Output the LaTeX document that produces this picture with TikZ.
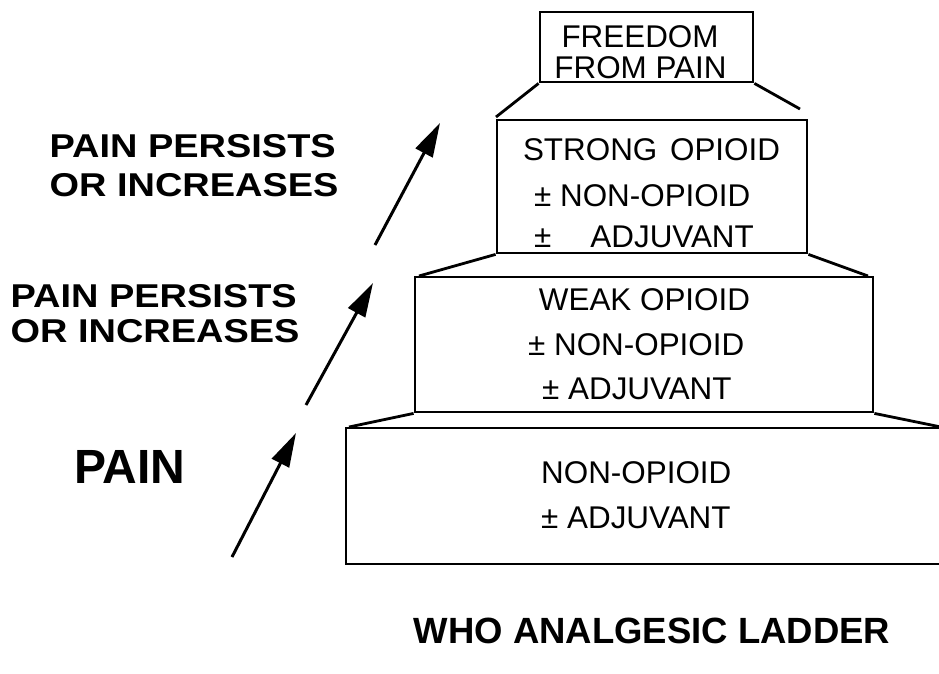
\documentclass[tikz,border=0pt]{standalone}
\usepackage{fontspec}
\setmainfont{Liberation Sans}
\newfontfamily\widesans[FakeStretch=1.15]{Liberation Sans}
\usetikzlibrary{arrows.meta}
\begin{document}
\begin{tikzpicture}[x=1pt,y=-1pt,
  ladderbox/.style={draw,line width=2.8pt,inner sep=0pt},
  boxtext/.style={inner sep=0pt,font=\fontsize{31.4}{36}\selectfont},
  sidetext/.style={inner sep=0pt,anchor=base west,font=\widesans\bfseries\fontsize{33}{40}\selectfont},
  bigtext/.style={inner sep=0pt,anchor=base,font=\bfseries\fontsize{48}{56}\selectfont},
  titletext/.style={inner sep=0pt,anchor=base,font=\bfseries\fontsize{36.5}{44}\selectfont},
  slant/.style={line width=2.8pt},
  uparrow/.style={line width=3pt,-{Triangle[length=34pt,width=19pt]}}]
\useasboundingbox (0,0) rectangle (939,673);
\fill[white] (0,0) rectangle (939,673);

% boxes
\node[ladderbox,minimum width=213pt,minimum height=70pt] (top) at (646.5,47) {};
\node[ladderbox,minimum width=310pt,minimum height=133pt] (strong) at (652,186.5) {};
\node[ladderbox,minimum width=458pt,minimum height=135pt] (weak) at (644,344.5) {};
\node[ladderbox,minimum width=600pt,minimum height=136pt] (base) at (646,496) {};

% slant ends
\coordinate (s1l) at (496,117);
\coordinate (s1r) at (800,109);
\coordinate (s2l) at (419,276);
\coordinate (s2r) at (868,276);
\coordinate (s3l) at (349,427);
\coordinate (s3r) at (941,427);
\draw[slant] (top.south west) -- (s1l);
\draw[slant] (top.south east) -- (s1r);
\draw[slant] (strong.south west) -- (s2l);
\draw[slant] (strong.south east) -- (s2r);
\draw[slant] (weak.south west) -- (s3l);
\draw[slant] (weak.south east) -- (s3r);

% box texts
\node[boxtext,anchor=base] (t1) at (640,47) {FREEDOM};
\node[boxtext,anchor=base] (t2) at (640.5,78) {FROM PAIN};
\node[boxtext,anchor=base] (s1) at (651.5,160) {STRONG\hspace{4pt} OPIOID};
\node[boxtext,anchor=base west] (s2) at (534,206) {± NON-OPIOID};
\node[boxtext,anchor=base west] (s3) at (534,247) {±\hspace{39pt}ADJUVANT};
\node[boxtext,anchor=base] (w1) at (644.5,310) {WEAK OPIOID};
\node[boxtext,anchor=base west] (w2) at (528,355) {± NON-OPIOID};
\node[boxtext,anchor=base west] (w3) at (542,399) {± ADJUVANT};
\node[boxtext,anchor=base west] (b1) at (541,483) {NON-OPIOID};
\node[boxtext,anchor=base west] (b2) at (541,528) {± ADJUVANT};

% side texts
\node[sidetext] (p1a) at (49.5,157) {PAIN PERSISTS};
\node[sidetext] (p1b) at (49.5,196) {OR INCREASES};
\node[sidetext] (p2a) at (10.5,307) {PAIN PERSISTS};
\node[sidetext] (p2b) at (10.5,342) {OR INCREASES};
\node[bigtext] (pain) at (130,483) {PAIN};
\node[titletext] (title) at (652,643) {WHO ANALGESIC LADDER};

% arrows
\coordinate (a1s) at (232,557);
\coordinate (a1e) at (296,433);
\coordinate (a2s) at (306,405);
\coordinate (a2e) at (373,283);
\coordinate (a3s) at (375,245);
\coordinate (a3e) at (440,123);
\draw[uparrow] (a1s) -- (a1e);
\draw[uparrow] (a2s) -- (a2e);
\draw[uparrow] (a3s) -- (a3e);
\end{tikzpicture}
\end{document}
